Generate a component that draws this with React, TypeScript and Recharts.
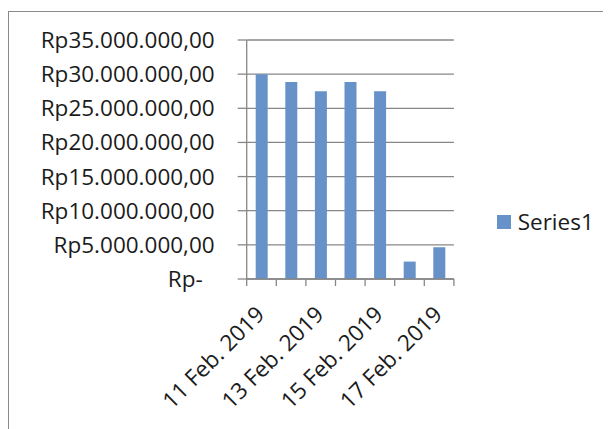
import React from "react";
import { BarChart, Bar, XAxis, YAxis, CartesianGrid, Legend } from "recharts";

const categories = [
  "11 Feb. 2019",
  "12 Feb. 2019",
  "13 Feb. 2019",
  "14 Feb. 2019",
  "15 Feb. 2019",
  "16 Feb. 2019",
  "17 Feb. 2019",
];
const series1 = [30000000, 28850000, 27500000, 28850000, 27500000, 2550000, 4650000];
const yTicks = [0, 5000000, 10000000, 15000000, 20000000, 25000000, 30000000, 35000000];
const seriesName = "Series1";

const data = categories.map((c, i) => ({ name: c, value: series1[i] }));

const W = 603;
const H = 421;
const PLOT_LEFT = 238.7;
const PLOT_RIGHT = 445.9;
const PLOT_TOP = 32;
const PLOT_BOTTOM = 271;
const STEP = (PLOT_RIGHT - PLOT_LEFT) / categories.length;
const FONT = "'Open Sans', 'Liberation Sans', sans-serif";
const FS = 22.5;
const GRID = "#878787";
const BAR = "#6792c9";

const fmt = (v: number) => {
  if (v === 0) return "Rp-";
  const s = Math.round(v).toString().replace(/\B(?=(\d{3})+(?!\d))/g, ".");
  return "Rp" + s + ",00";
};

const YTick = (props: any) => {
  const { x, y, payload } = props;
  const v = payload.value;
  return (
    <text
      x={x - (v === 0 ? 12 : 0)}
      y={y}
      dy="0.355em"
      textAnchor="end"
      fontSize={FS}
      fontFamily={FONT}
      fill="#1b1b1b"
    >
      {fmt(v)}
    </text>
  );
};

const XTick = (props: any) => {
  const { x, y, payload, index } = props;
  const left = x - STEP / 2;
  const right = x + STEP / 2;
  const ax = x + 4.4;
  const ay = y + 37;
  return (
    <g>
      <line x1={left} x2={left} y1={y} y2={y + 7} stroke={GRID} strokeWidth={1.3} />
      {index === categories.length - 1 && (
        <line x1={right} x2={right} y1={y} y2={y + 7} stroke={GRID} strokeWidth={1.3} />
      )}
      {index % 2 === 0 && (
        <text
          x={ax}
          y={ay}
          textAnchor="end"
          fontSize={FS}
          fontFamily={FONT}
          fill="#1b1b1b"
          transform={`rotate(-45, ${ax}, ${ay})`}
        >
          {payload.value}
        </text>
      )}
    </g>
  );
};

const LegendContent = () => (
  <div style={{ display: "flex", alignItems: "center", height: 28, fontFamily: FONT }}>
    <div style={{ width: 14, height: 14, background: BAR, marginRight: 7 }} />
    <span style={{ fontSize: FS, lineHeight: "28px", color: "#1b1b1b" }}>{seriesName}</span>
  </div>
);

export default function App() {
  return (
    <div style={{ position: "relative", width: W, height: H, overflow: "hidden", background: "#fff" }}>
      <div
        style={{
          position: "absolute",
          left: 0,
          top: 3,
          width: 800,
          height: 600,
          border: "1.3px solid #8a8a8a",
          boxSizing: "border-box",
        }}
      />
      <div style={{ position: "absolute", left: 0, top: 0 }}>
        <BarChart
          width={W}
          height={H}
          data={data}
          margin={{ top: PLOT_TOP, right: W - PLOT_RIGHT, left: 0, bottom: 0 }}
        >
          <CartesianGrid vertical={false} stroke={GRID} strokeWidth={1.3} />
          <XAxis
            dataKey="name"
            interval={0}
            height={H - PLOT_BOTTOM}
            tickSize={0}
            tickMargin={0}
            tickLine={false}
            axisLine={{ stroke: GRID, strokeWidth: 1.3 }}
            tick={<XTick />}
          />
          <YAxis
            width={PLOT_LEFT}
            domain={[0, 35000000]}
            ticks={yTicks}
            interval={0}
            tickSize={9}
            tickMargin={23}
            tickLine={{ stroke: GRID, strokeWidth: 1.3 }}
            axisLine={{ stroke: GRID, strokeWidth: 1.3 }}
            tick={<YTick />}
          />
          <Legend
            layout="vertical"
            align="center"
            verticalAlign="middle"
            wrapperStyle={{ left: 488.7, top: 200, width: "auto" }}
            content={<LegendContent />}
          />
          <Bar dataKey="value" name={seriesName} fill={BAR} barSize={12} isAnimationActive={false} />
        </BarChart>
      </div>
    </div>
  );
}
